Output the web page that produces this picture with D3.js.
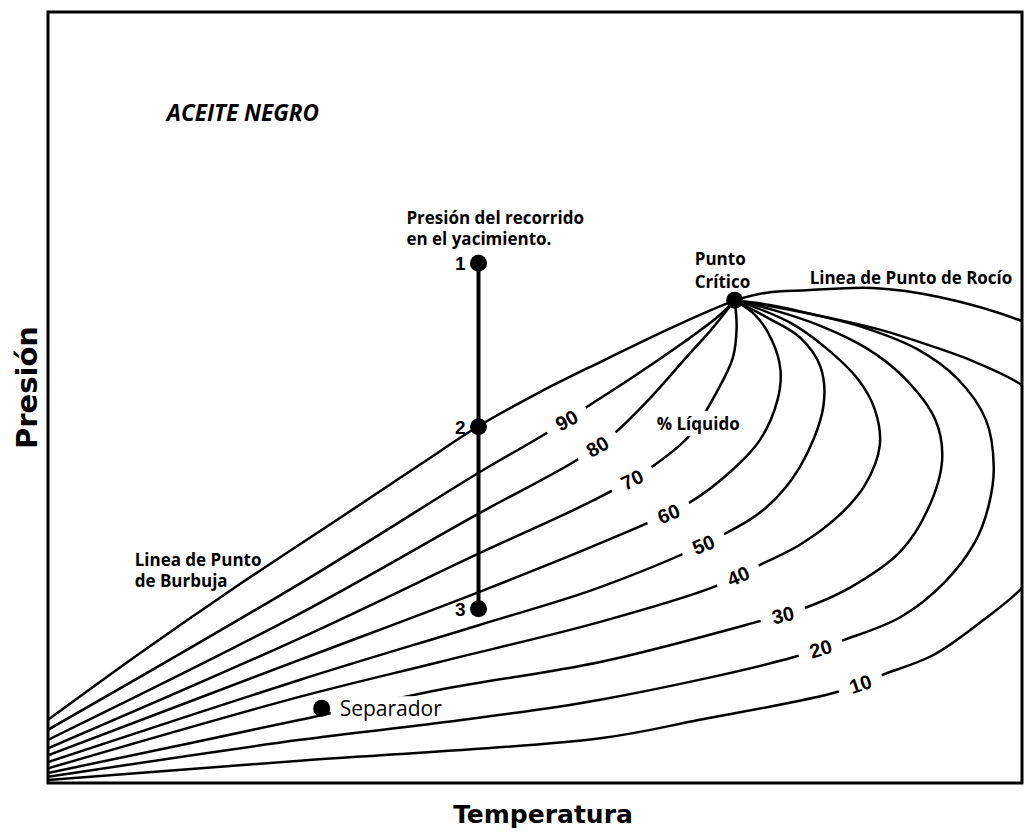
<!DOCTYPE html>
<html>
<head>
<meta charset="utf-8">
<script src="https://cdn.jsdelivr.net/npm/d3@7"></script>
<style>
  body { margin: 0; background: #fff; }
  svg text { font-family: 'Open Sans', sans-serif; fill: #000; }
</style>
</head>
<body>
<svg id="chart" width="1027" height="832"></svg>
<script>
// Phase envelope of a black oil.
// Temperature and pressure are relative units (0-100), the picture has no ticks.
const critical_point = [70.5, 62.6];

const bubble_line = [[0, 8.2], [9.4, 16.8], [19.0, 25.2], [30.0, 34.4], [38.2, 41.3], [44.1, 46.2],
  [50.5, 50.7], [56.7, 54.6], [63.6, 58.8], [68.0, 61.3]];
const dew_line = [[73.8, 63.6], [77.9, 63.9], [84.7, 64.2], [91.6, 63.0], [100, 59.9], [103.9, 57.5]];

// iso-liquid lines, from the low temperature side round to the critical point
const liquid_90 = [[0, 6.9], [25.9, 25.9], [44.3, 40.3], [51.2, 45.4], [55.1, 48.6], [60.1, 52.7],
  [65.2, 57.1], [68.7, 60.4]];
const liquid_80 = [[0, 5.6], [25.9, 22.0], [44.3, 35.0], [54.3, 41.9], [58.0, 45.2], [61.8, 49.9],
  [65.6, 55.3], [68.3, 59.1]];
const liquid_70 = [[0, 4.5], [25.9, 18.8], [44.3, 29.8], [56.7, 37.1], [62.0, 41.0], [65.9, 45.1],
  [68.3, 49.9], [70.3, 55.1], [70.7, 59.0]];
const liquid_60 = [[0, 3.6], [25.9, 16.0], [44.3, 24.8], [56.7, 31.1], [65.9, 36.4], [70.0, 40.3],
  [73.1, 44.5], [74.9, 49.7], [75.2, 53.6], [74.3, 57.5], [72.6, 60.7]];
const liquid_50 = [[0, 2.7], [25.9, 13.4], [44.3, 20.5], [56.7, 25.4], [69.3, 32.2], [73.8, 35.8],
  [77.2, 41.0], [79.6, 48.8], [79.3, 54.0], [77.2, 57.8], [73.8, 60.4]];
const liquid_40 = [[0, 1.9], [25.9, 11.2], [40.2, 15.7], [56.7, 20.9], [68.3, 25.4], [73.1, 28.3],
  [77.2, 30.9], [81.3, 34.8], [83.9, 38.7], [85.4, 43.8], [84.9, 48.4], [83.2, 52.3], [79.8, 56.5],
  [76.2, 59.7], [72.6, 61.7]];
const liquid_30 = [[0, 1.3], [25.9, 8.2], [40.2, 12.1], [56.7, 15.7], [72.8, 20.9], [77.7, 22.7],
  [82.3, 25.3], [87.5, 30.0], [90.3, 35.4], [91.8, 41.9], [91.1, 47.1], [87.8, 52.7], [83.9, 56.5],
  [79.3, 59.3], [74.6, 61.3]];
const liquid_20 = [[0, 0.8], [25.9, 5.6], [40.2, 7.8], [56.7, 10.8], [76.5, 16.3], [81.6, 18.5],
  [87.5, 21.5], [92.1, 26.1], [95.2, 31.3], [96.6, 36.1], [97.1, 41.0], [96.3, 47.1], [93.4, 52.4],
  [89.2, 56.3], [83.7, 59.1], [78.5, 60.8], [74.1, 62.0]];
const liquid_10 = [[0, 0.4], [25.9, 2.9], [56.7, 5.8], [66.9, 8.2], [81.0, 11.8], [85.6, 14.0],
  [90.9, 16.6], [96.0, 21.1], [100, 25.3], [103.4, 30.9], [105.4, 39.3], [103.9, 47.1], [100, 51.6],
  [95.2, 54.6], [91.1, 56.5], [85.4, 58.8], [80.3, 60.3], [75.2, 61.6]];

const liquid_pct = [90, 80, 70, 60, 50, 40, 30, 20, 10];
const liquid_lines = [liquid_90, liquid_80, liquid_70, liquid_60, liquid_50, liquid_40, liquid_30, liquid_20, liquid_10];
const label_temp = [53.2, 56.4, 59.9, 63.7, 67.2, 70.8, 75.4, 79.3, 83.4];

// isothermal depletion in the reservoir, and the separator conditions
const reservoir_temp = 44.2;
const reservoir_names = ['1', '2', '3'];
const reservoir_press = [67.4, 46.2, 22.6];
const separator = [28.1, 9.7];

const frame = { left: 48, top: 12, right: 1022, bottom: 783 };

const svg = d3.select('#chart');
const x = d3.scaleLinear().domain([0, 100]).range([frame.left, frame.right]);
const y = d3.scaleLinear().domain([0, 100]).range([frame.bottom, frame.top]);

const line = d3.line()
  .x((d) => x(d[0]))
  .y((d) => y(d[1]))
  .curve(d3.curveCatmullRom.alpha(0.5));

svg.append('clipPath')
  .attr('id', 'frame-clip')
  .append('rect')
  .attr('x', frame.left)
  .attr('y', frame.top)
  .attr('width', frame.right - frame.left)
  .attr('height', frame.bottom - frame.top);

const plot = svg.append('g').attr('clip-path', 'url(#frame-clip)');

const curves = [bubble_line.concat([critical_point]), [critical_point].concat(dew_line)]
  .concat(liquid_lines.map((l) => l.concat([critical_point])));

const paths = plot.selectAll('.curve')
  .data(curves)
  .enter()
  .append('path')
  .attr('class', 'curve')
  .attr('d', line)
  .attr('fill', 'none')
  .attr('stroke', '#000')
  .attr('stroke-width', 2.5);

// walk along a path until it reaches a temperature, return the spot and its slope
function label_spot(node, t) {
  const target = x(t);
  const total = node.getTotalLength();
  let l = 0;
  while (l < total && node.getPointAtLength(l).x < target)
    l += 1;
  const p = node.getPointAtLength(l);
  const a = node.getPointAtLength(Math.max(l - 5, 0));
  const b = node.getPointAtLength(Math.min(l + 5, total));
  return { x: p.x, y: p.y, angle: Math.atan2(b.y - a.y, b.x - a.x) * 180 / Math.PI };
}

const liquid_nodes = paths.nodes().slice(2);
liquid_pct.forEach((pct, i) => {
  const spot = label_spot(liquid_nodes[i], label_temp[i]);
  const g = plot.append('g')
    .attr('transform', `translate(${spot.x},${spot.y}) rotate(${spot.angle * 0.85})`);
  g.append('rect')
    .attr('x', -23).attr('y', -9)
    .attr('width', 46).attr('height', 18)
    .attr('fill', '#fff');
  g.append('text')
    .attr('text-anchor', 'middle')
    .attr('dy', '0.36em')
    .style('font-family', "'Liberation Sans', Arial, sans-serif")
    .style('font-weight', 'bold')
    .style('font-size', '20px')
    .text(pct);
});

// text notes inside the frame
const notes = [
  { lines: ['ACEITE NEGRO'], t: 12.2, p: 85.9, size: 22.5, italic: true },
  { lines: ['Presión del recorrido', 'en el yacimiento.'], t: 36.8, p: 72.5, size: 17, lh: 21 },
  { lines: ['Punto', 'Crítico'], t: 66.4, p: 67.2, size: 17, lh: 23 },
  { lines: ['Linea de Punto de Rocío'], t: 78.2, p: 64.7, size: 17 },
  { lines: ['% Líquido'], t: 62.5, p: 45.8, size: 17, knockout: true },
  { lines: ['Linea de Punto', 'de Burbuja'], t: 8.9, p: 28.1, size: 17, lh: 21 }
];

notes.forEach((n) => {
  const g = svg.append('g');
  const text = g.append('text')
    .attr('x', x(n.t))
    .attr('y', y(n.p))
    .style('font-size', `${n.size}px`)
    .style('font-weight', 'bold')
    .style('font-style', n.italic ? 'italic' : 'normal');
  n.lines.forEach((s, i) => {
    text.append('tspan')
      .attr('x', x(n.t))
      .attr('dy', i === 0 ? 0 : n.lh)
      .text(s);
  });
  if (n.knockout) {
    const bb = text.node().getBBox();
    g.insert('rect', () => text.node())
      .attr('x', bb.x - 2).attr('y', bb.y - 1)
      .attr('width', bb.width + 4).attr('height', bb.height + 2)
      .attr('fill', '#fff');
  }
});

// separator point with its label on a white patch
const sep_x = x(separator[0]);
const sep_y = y(separator[1]);
const sep_group = svg.append('g');
const sep_label = sep_group.append('text')
  .attr('x', sep_x + 18)
  .attr('y', sep_y + 8)
  .style('font-size', '21px')
  .style('font-weight', 500)
  .text('Separador');
const sep_bb = sep_label.node().getBBox();
sep_group.insert('rect', () => sep_label.node())
  .attr('x', sep_x + 9)
  .attr('y', sep_bb.y + 2)
  .attr('width', sep_bb.x + sep_bb.width - sep_x - 7)
  .attr('height', sep_y + 12 - sep_bb.y - 2)
  .attr('fill', '#fff');
sep_group.append('circle')
  .attr('cx', sep_x)
  .attr('cy', sep_y)
  .attr('r', 8.5);

// reservoir path 1 -> 3
svg.append('line')
  .attr('x1', x(reservoir_temp))
  .attr('x2', x(reservoir_temp))
  .attr('y1', y(d3.max(reservoir_press)))
  .attr('y2', y(d3.min(reservoir_press)))
  .attr('stroke', '#000')
  .attr('stroke-width', 4);

svg.selectAll('.stage')
  .data(reservoir_press)
  .enter()
  .append('circle')
  .attr('class', 'stage')
  .attr('cx', x(reservoir_temp))
  .attr('cy', (d) => y(d))
  .attr('r', 8.5);

svg.selectAll('.stage-label')
  .data(reservoir_press)
  .enter()
  .append('text')
  .attr('class', 'stage-label')
  .attr('x', x(reservoir_temp) - 13)
  .attr('y', (d) => y(d) + 7)
  .attr('text-anchor', 'end')
  .style('font-family', "'Liberation Sans', Arial, sans-serif")
  .style('font-weight', 'bold')
  .style('font-size', '19px')
  .text((d, i) => reservoir_names[i]);

svg.append('circle')
  .attr('cx', x(critical_point[0]))
  .attr('cy', y(critical_point[1]))
  .attr('r', 8.5);

svg.append('rect')
  .attr('x', frame.left)
  .attr('y', frame.top)
  .attr('width', frame.right - frame.left)
  .attr('height', frame.bottom - frame.top)
  .attr('fill', 'none')
  .attr('stroke', '#000')
  .attr('stroke-width', 3);

// axis titles
svg.append('text')
  .attr('x', (frame.left + frame.right) / 2 + 8)
  .attr('y', 823)
  .attr('text-anchor', 'middle')
  .style('font-family', "'DejaVu Sans', sans-serif")
  .style('font-weight', 'bold')
  .style('font-size', '25px')
  .text('Temperatura');

svg.append('text')
  .attr('transform', `translate(37,${(frame.top + frame.bottom) / 2 - 10}) rotate(-90)`)
  .attr('text-anchor', 'middle')
  .style('font-family', "'DejaVu Sans', sans-serif")
  .style('font-weight', 'bold')
  .style('font-size', '29px')
  .text('Presión');
</script>
</body>
</html>
